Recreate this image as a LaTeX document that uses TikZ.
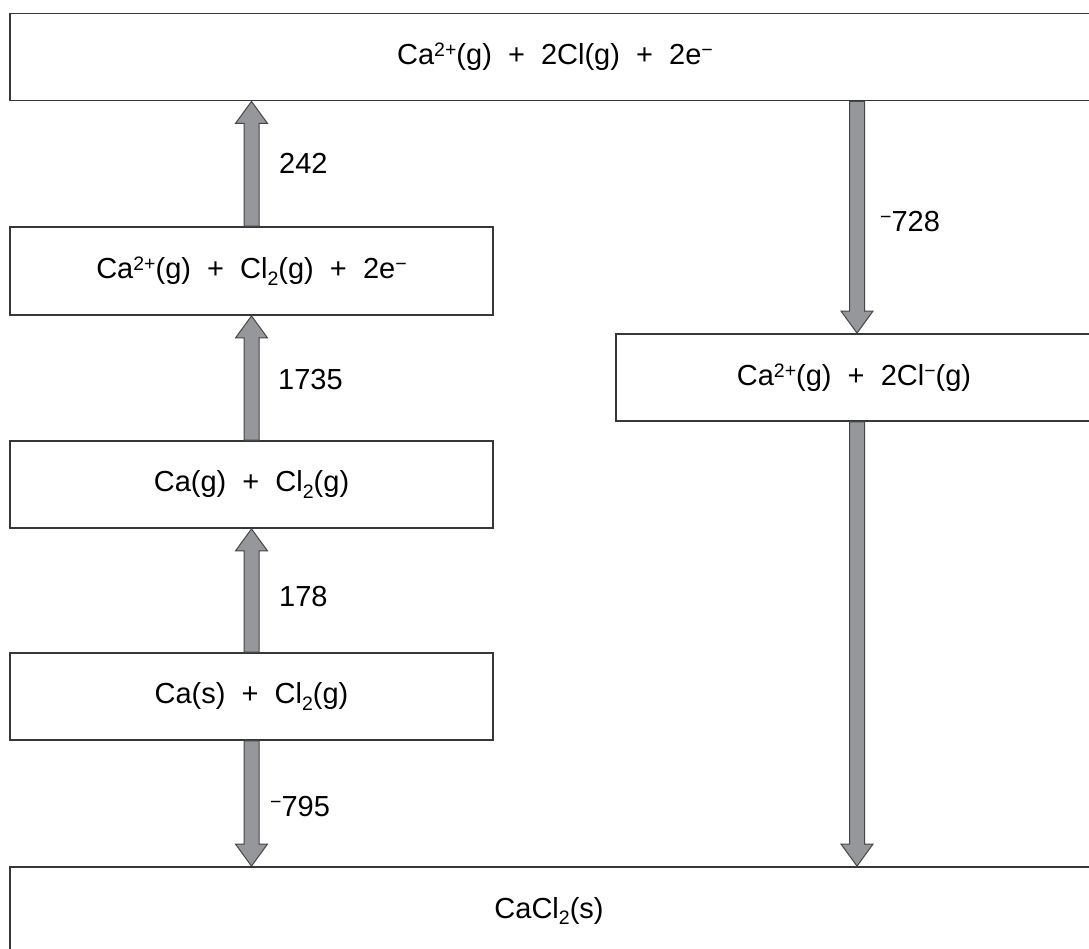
\documentclass[tikz,border=0pt]{standalone}
\usepackage{fontspec}
\setmainfont{Liberation Sans}
\usetikzlibrary{calc}
\definecolor{arrowfill}{RGB}{150,151,155}
\definecolor{arrowline}{RGB}{70,70,72}
\definecolor{boxline}{RGB}{55,55,55}
\newcommand\sups[1]{\raisebox{0.28em}{\fontsize{19.5}{21}\selectfont #1}}
\newcommand\subs[1]{\raisebox{-0.22em}{\fontsize{19.5}{21}\selectfont #1}}
\newcommand\pls{~~+~~}
\newcommand\fatarrow[2]{%
  \filldraw[fatarrow] let \p1=#1, \p2=#2, \n1={sign(\y2-\y1)} in
   ({\x1-7.5pt},\y1) -- ({\x1-7.5pt},{\y2-\n1*22pt}) -- ({\x1-16pt},{\y2-\n1*22pt})
   -- (\x1,\y2) -- ({\x1+16pt},{\y2-\n1*22pt}) -- ({\x1+7.5pt},{\y2-\n1*22pt})
   -- ({\x1+7.5pt},\y1) -- cycle;}
\tikzset{
  box/.style={draw=boxline, line width=1.8pt, rectangle, minimum height=87pt,
    inner sep=0pt, font=\fontsize{29}{34}\selectfont},
  fatarrow/.style={fill=arrowfill, draw=arrowline, line width=1pt, line join=miter},
  lab/.style={anchor=west, inner sep=0pt, font=\fontsize{29}{34}\selectfont}
}
\begin{document}
\begin{tikzpicture}[x=1pt,y=-1pt]
\useasboundingbox (0,0) rectangle (1089,949);
\clip (0,0) rectangle (1089,949);
% boxes
\node[box, minimum width=1090pt] (top) at (555,57) {Ca\sups{2+}(g)\pls 2Cl(g)\pls 2e\sups{−}};
\node[box, minimum width=483pt, minimum height=88pt] (b2) at (251.5,271) {Ca\sups{2+}(g)\pls Cl\subs{2}(g)\pls 2e\sups{−}};
\node[box, minimum width=483pt] (b3) at (251.5,484.5) {Ca(g)\pls Cl\subs{2}(g)};
\node[box, minimum width=483pt] (b4) at (251.5,696.5) {Ca(s)\pls Cl\subs{2}(g)};
\node[box, minimum width=482pt] (rb) at (857,377.5) {Ca\sups{2+}(g)\pls 2Cl\sups{−}(g)\hspace*{6pt}};
\node[box, minimum width=1090pt, minimum height=88pt] (bot) at (555,911) {CaCl\subs{2}(s)\hspace*{12pt}};
% arrows
\fatarrow{(b2.north)}{(b2.north |- top.south)}
\fatarrow{(b3.north)}{(b2.south)}
\fatarrow{(b4.north)}{(b3.south)}
\fatarrow{(b4.south)}{(b4.south |- bot.north)}
\fatarrow{(top.south -| rb.north)}{(rb.north)}
\fatarrow{(rb.south)}{(rb.south |- bot.north)}
% labels
\node[lab] (l1) at (279,163) {242};
\node[lab] (l2) at (278,380) {1735};
\node[lab] (l3) at (279,597) {178};
\node[lab] (l4) at (270,807) {\sups{−}795};
\node[lab] (l5) at (880,222) {\sups{−}728};
\end{tikzpicture}
\end{document}
